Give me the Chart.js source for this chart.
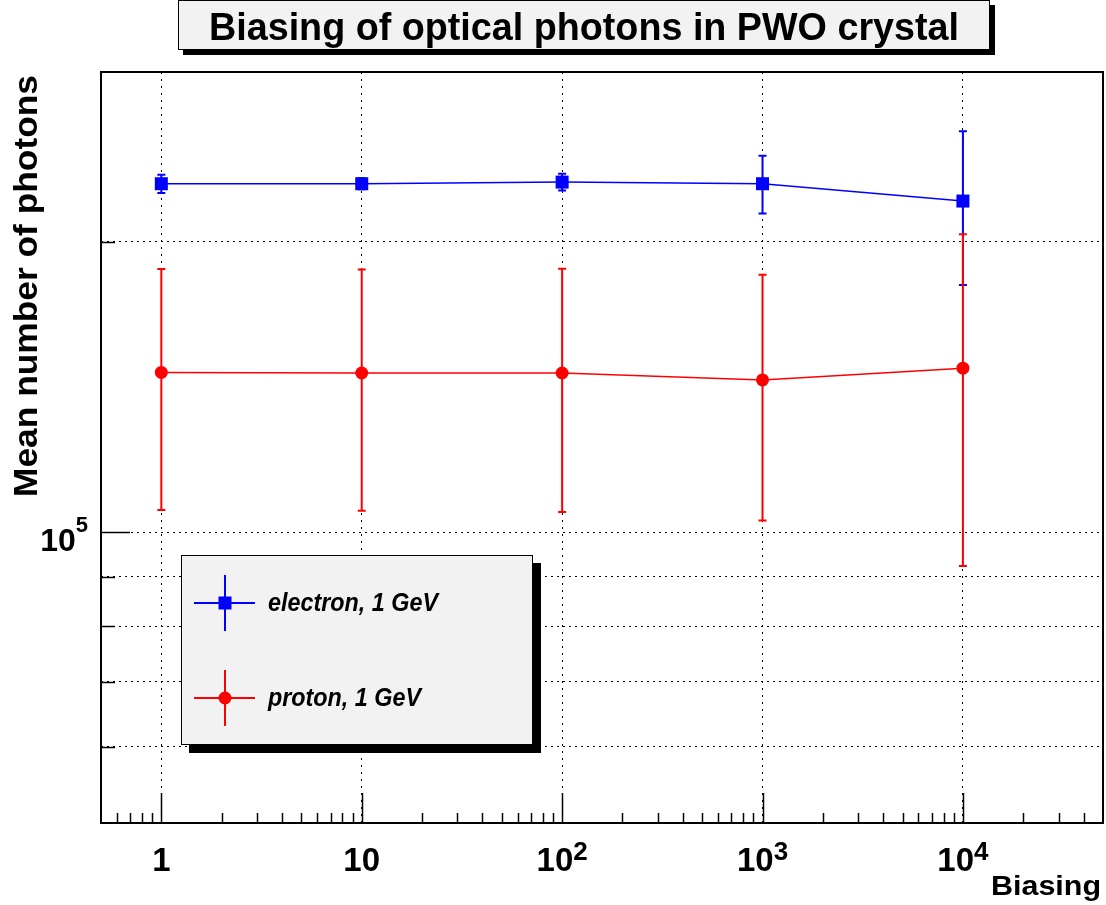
<!DOCTYPE html>
<html>
<head>
<meta charset="utf-8">
<script src="https://cdn.jsdelivr.net/npm/chart.js@4/dist/chart.umd.min.js"></script>
<style>
html,body{margin:0;padding:0;background:#fff;}
canvas{display:block;}
</style>
</head>
<body>
<canvas id="biasChart" width="1106" height="905"></canvas>
<script>
// ====================================
// DATA
// ====================================

const biasing = [1, 10, 100, 1000, 10000];

const electronMean = [229800, 229800, 230700, 229800, 220500];
const electronErr  = [5000, 3000, 4600, 15800, 40000];

const protonMean = [146500, 146300, 146300, 143900, 148000];
const protonErr  = [41000, 41000, 41300, 41000, 55700];

const xTickLabels = ['1', '10', '10^2', '10^3', '10^4'];
const yGridValues = [60000, 70000, 80000, 90000, 100000, 200000];
const yLabelValues = [100000];
const yTickLabels = ['10^5'];

const seriesNames = ['electron, 1 GeV', 'proton, 1 GeV'];

const FONT = '"Liberation Sans", Arial, sans-serif';

// ====================================
// HELPERS
// ====================================

function fitText(ctx, text, x, y, width, font, align){
    ctx.font = font;
    const w = ctx.measureText(text).width;
    ctx.save();
    ctx.translate(x, y);
    ctx.scale(width / w, 1);
    ctx.textAlign = align;
    ctx.textBaseline = 'alphabetic';
    ctx.fillText(text, 0, 0);
    ctx.restore();
}

// "10^2" -> base + superscript
function powerLabel(ctx, label, x, y, baseSize, supSize, supRise, align){
    const parts = label.split('^');
    const base = parts[0];
    const exp = parts[1] || '';
    ctx.font = 'bold ' + baseSize + 'px ' + FONT;
    const wb = ctx.measureText(base).width;
    ctx.font = 'bold ' + supSize + 'px ' + FONT;
    const we = exp ? ctx.measureText(exp).width : 0;
    const total = wb + we;
    let start = x - total / 2;
    if(align === 'right') start = x - total;
    ctx.textAlign = 'left';
    ctx.textBaseline = 'alphabetic';
    ctx.font = 'bold ' + baseSize + 'px ' + FONT;
    ctx.fillText(base, start, y);
    if(exp){
        ctx.font = 'bold ' + supSize + 'px ' + FONT;
        ctx.fillText(exp, start + wb, y - supRise);
    }
}

function errorBars(ctx, xs, ys, means, errs, color){
    ctx.save();
    ctx.strokeStyle = color;
    ctx.lineWidth = 2;
    means.forEach((m, i)=>{
        const px = xs.getPixelForValue(biasing[i]);
        const top = ys.getPixelForValue(m + errs[i]);
        const bot = ys.getPixelForValue(m - errs[i]);
        ctx.beginPath();
        ctx.moveTo(px, top); ctx.lineTo(px, bot);
        ctx.moveTo(px - 4, top); ctx.lineTo(px + 4, top);
        ctx.moveTo(px - 4, bot); ctx.lineTo(px + 4, bot);
        ctx.stroke();
    });
    ctx.restore();
}

function shadowBox(ctx, x1, y1, x2, y2, sx, sy, fill){
    ctx.fillStyle = '#000';
    ctx.fillRect(x1 + sx, y1 + sy, x2 - x1, y2 - y1);
    ctx.fillStyle = fill;
    ctx.fillRect(x1, y1, x2 - x1, y2 - y1);
    ctx.strokeStyle = '#000';
    ctx.lineWidth = 1;
    ctx.strokeRect(x1 + 0.5, y1 + 0.5, x2 - x1 - 1, y2 - y1 - 1);
}

// ====================================
// ROOT STYLE PLUGIN
// ====================================

const rootStyle = {
    id: 'rootStyle',
    beforeDraw(chart){
        const ctx = chart.ctx;
        ctx.save();
        ctx.fillStyle = '#fff';
        ctx.fillRect(0, 0, chart.width, chart.height);
        ctx.restore();
    },
    beforeDatasetsDraw(chart){
        const ctx = chart.ctx;
        const xs = chart.scales.x, ys = chart.scales.y;
        errorBars(ctx, xs, ys, electronMean, electronErr, '#0000ff');
        errorBars(ctx, xs, ys, protonMean, protonErr, '#ff0000');
    },
    afterDraw(chart){
        const ctx = chart.ctx;
        const xs = chart.scales.x, ys = chart.scales.y;
        const a = chart.chartArea;
        ctx.save();

        // frame
        ctx.strokeStyle = '#000';
        ctx.lineWidth = 2;
        ctx.strokeRect(a.left, a.top, a.right - a.left, a.bottom - a.top);

        // x ticks
        ctx.lineWidth = 1.5;
        ctx.beginPath();
        for(let e = -1; e <= 4; e++){
            for(let k = 1; k <= 9; k++){
                const v = k * Math.pow(10, e);
                if(v <= xs.min * 1.001 || v >= xs.max * 0.999) continue;
                const px = Math.round(xs.getPixelForValue(v)) + 0.5;
                const len = k === 1 ? 30 : 10;
                ctx.moveTo(px, a.bottom);
                ctx.lineTo(px, a.bottom - len);
            }
        }
        // y ticks
        yGridValues.forEach(v=>{
            const py = Math.round(ys.getPixelForValue(v)) + 0.5;
            const len = yLabelValues.includes(v) ? 29 : 14;
            ctx.moveTo(a.left, py);
            ctx.lineTo(a.left + len, py);
        });
        ctx.stroke();

        // tick labels
        ctx.fillStyle = '#000';
        xTickLabels.forEach((lab, i)=>{
            const px = xs.getPixelForValue(biasing[i]);
            powerLabel(ctx, lab, px, a.bottom + 48, 33, 26, 11, 'center');
        });
        yTickLabels.forEach((lab, i)=>{
            const py = ys.getPixelForValue(yLabelValues[i]);
            powerLabel(ctx, lab, a.left - 13, py + 19, 32, 22, 19, 'right');
        });

        // axis titles
        fitText(ctx, 'Biasing', 1101, 895, 110, 'bold 28px ' + FONT, 'right');
        ctx.save();
        ctx.translate(37, 286);
        ctx.rotate(-Math.PI / 2);
        fitText(ctx, 'Mean number of photons', 0, 0, 422, 'bold 33px ' + FONT, 'center');
        ctx.restore();

        // title box
        shadowBox(ctx, 178, 0, 990, 50, 5, 5, '#f2f2f2');
        ctx.fillStyle = '#000';
        fitText(ctx, 'Biasing of optical photons in PWO crystal', 584, 40, 750, 'bold 38px ' + FONT, 'center');

        // legend box
        shadowBox(ctx, 181, 555, 533, 745, 8, 8, '#f2f2f2');
        const entries = [
            {color:'#0000ff', style:'rect', y:603, width:170},
            {color:'#ff0000', style:'circle', y:698, width:153}
        ];
        entries.forEach((en, i)=>{
            ctx.strokeStyle = en.color;
            ctx.fillStyle = en.color;
            ctx.lineWidth = 2;
            ctx.beginPath();
            ctx.moveTo(194, en.y); ctx.lineTo(255, en.y);
            ctx.moveTo(225, en.y - 28); ctx.lineTo(225, en.y + 28);
            ctx.stroke();
            if(en.style === 'rect'){
                ctx.fillRect(218.5, en.y - 6.5, 13, 13);
            }else{
                ctx.beginPath();
                ctx.arc(225, en.y, 6.5, 0, Math.PI * 2);
                ctx.fill();
            }
            ctx.fillStyle = '#000';
            fitText(ctx, seriesNames[i], 268, en.y + 8, en.width, 'italic bold 25px ' + FONT, 'left');
        });

        ctx.restore();
    }
};

// ====================================
// CHART
// ====================================

const ctxBias = document.getElementById('biasChart').getContext('2d');

const biasChart = new Chart(ctxBias, {
    type: 'line',
    data: {
        datasets: [{
            label: seriesNames[0],
            data: biasing.map((x, i)=>({x: x, y: electronMean[i]})),
            borderColor: '#0000ff',
            backgroundColor: '#0000ff',
            borderWidth: 1.5,
            pointStyle: 'rect',
            pointRadius: 9.2,
            pointBorderWidth: 0,
            tension: 0
        },{
            label: seriesNames[1],
            data: biasing.map((x, i)=>({x: x, y: protonMean[i]})),
            borderColor: '#ff0000',
            backgroundColor: '#ff0000',
            borderWidth: 1.5,
            pointStyle: 'circle',
            pointRadius: 6.5,
            pointBorderWidth: 0,
            tension: 0
        }]
    },
    options: {
        responsive: false,
        animation: false,
        devicePixelRatio: 1,
        layout: { autoPadding: false, padding: { left: 101, top: 72, right: 3, bottom: 82 } },
        plugins: {
            legend: { display: false },
            title: { display: false },
            tooltip: { enabled: false }
        },
        scales: {
            x: {
                type: 'logarithmic',
                min: 0.5,
                max: 50000,
                afterBuildTicks: s => { s.ticks = biasing.map(v=>({value: v})); },
                ticks: { display: false },
                grid: { color: '#000', lineWidth: 1, drawTicks: false },
                border: { display: false, dash: [2, 5] }
            },
            y: {
                type: 'logarithmic',
                min: 50000,
                max: 300000,
                afterBuildTicks: s => { s.ticks = yGridValues.map(v=>({value: v})); },
                ticks: { display: false },
                grid: { color: '#000', lineWidth: 1, drawTicks: false },
                border: { display: false, dash: [2, 4] }
            }
        }
    },
    plugins: [rootStyle]
});
</script>
</body>
</html>
